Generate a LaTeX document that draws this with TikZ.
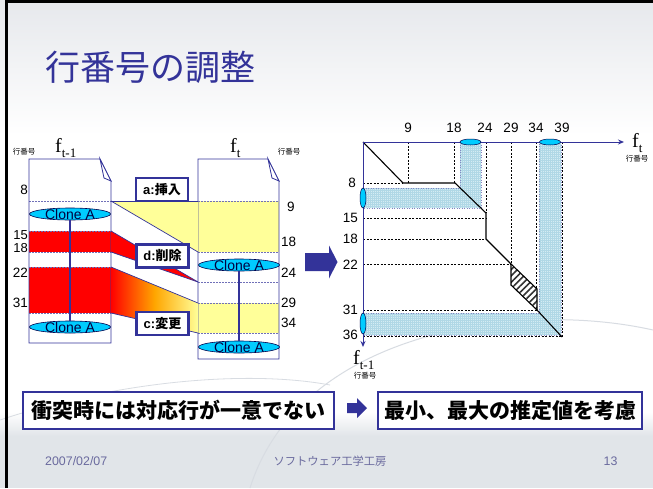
\documentclass[tikz,border=0pt]{standalone}
\usepackage{fontspec}
\setmainfont{Liberation Sans}
\newfontfamily\cjk{Noto Sans CJK JP}
\newfontfamily\tms{Liberation Serif}
\usetikzlibrary{shapes.geometric,arrows.meta,patterns.meta}
\definecolor{navy}{HTML}{333399}
\definecolor{cyanf}{HTML}{00CCFF}
\definecolor{yel}{HTML}{FFFF99}
\definecolor{bandc}{HTML}{D4ECF3}
\definecolor{bandl}{HTML}{B0D8E6}
\definecolor{footc}{HTML}{6A6A9E}
\definecolor{bgtop}{HTML}{E6E8EC}
\definecolor{bgbot}{HTML}{E1E5E9}
\definecolor{cloud}{HTML}{D8DCE2}
\newcommand\myfs[1]{\fontsize{#1}{#1}\selectfont}
\newcommand\fsub[1]{{\tms\myfs{20}f\raisebox{-5pt}{\myfs{13}#1}}}
\begin{document}
\begin{tikzpicture}[x=1pt,y=-1pt,
  docline/.style={draw=navy, line width=0.8pt},
  inner/.style={draw=navy!70, line width=0.4pt, dash pattern=on 1.5pt off 1.5pt},
  conn/.style={draw=navy, line width=0.7pt},
  clone/.style={ellipse, draw=black!70!blue, fill=cyanf, line width=0.6pt, minimum width=81pt, minimum height=12pt, inner sep=0pt},
  clonetxt/.style={font=\myfs{14}, text=black!75!blue, inner sep=0pt},
  num/.style={font=\myfs{13.5}, inner sep=0pt},
  opbox/.style={draw=navy, line width=2.2pt, fill=white, minimum width=52pt, minimum height=23pt, inner sep=0pt, font=\bfseries\myfs{13}},
  gdash/.style={draw=black, line width=0.6pt, dash pattern=on 2pt off 1.5pt},
  gline/.style={draw=black, line width=1.1pt},
  bandedge/.style={draw=navy!60, line width=0.5pt, dotted},
  axis/.style={draw=navy, line width=1pt},
  mini/.style={ellipse, draw=black!70!blue, fill=cyanf, line width=0.5pt, inner sep=0pt},
  bigbox/.style={draw=navy, line width=2.5pt, fill=white, inner sep=0pt, font=\cjk\bfseries\myfs{21}},
  small/.style={font=\cjk\myfs{7.5}, inner sep=0pt},
  foot/.style={text=footc, inner sep=0pt},
  blockarrow/.style={fill=navy}
]
\useasboundingbox (0,0) rectangle (653,488);
% background
\fill[white] (0,0) rectangle (653,488);
\shade[top color=bgtop, bottom color=white] (0,0) rectangle (653,135);
\shade[top color=white, bottom color=bgbot] (0,412) rectangle (653,436);
\fill[bgbot] (0,436) rectangle (653,488);
\draw[cloud, line width=1pt] (250,488) .. controls (300,330) and (520,300) .. (653,330);
\draw[cloud, line width=0.8pt] (0,420) .. controls (120,380) and (250,370) .. (330,385);
\draw[line width=3pt] (6.2,488) -- (6.2,1.5) -- (653,1.5);

% title
\node[anchor=west, text=navy, font=\cjk\myfs{35}, inner sep=0pt] (title) at (45,67) {行番号の調整};

% ---------- left document f_{t-1}
\fill[red] (29,231) rectangle (111,252);
\fill[red] (29,267) rectangle (111,313);
\draw[inner] (29,201) -- (111,201);
\draw[inner] (29,231) -- (111,231);
\draw[inner] (29,252) -- (111,252);
\draw[inner] (29,267) -- (111,267);
\draw[inner] (29,313) -- (111,313);
\draw[docline] (29,159) -- (100,159) -- (111,181) -- (111,343) -- (29,343) -- cycle;
\draw[docline, fill=white] (100,159) .. controls (102,168) .. (104,178) -- (111,181) -- cycle;

% ---------- right document f_t
\fill[yel] (198,201) rectangle (279,252);
\fill[yel] (198,303) rectangle (279,333);
\draw[inner] (198,201) -- (279,201);
\draw[inner] (198,252) -- (279,252);
\draw[inner] (198,282) -- (279,282);
\draw[inner] (198,303) -- (279,303);
\draw[inner] (198,333) -- (279,333);
\draw[docline] (198,159) -- (268,159) -- (279,181) -- (279,359) -- (198,359) -- cycle;
\draw[docline, fill=white] (268,159) .. controls (270,168) .. (272,178) -- (279,181) -- cycle;

% ---------- connectors between documents
\fill[yel] (111,201) -- (198,201) -- (198,252) -- cycle;
\draw[conn] (111,201) -- (198,201);
\draw[conn] (111,201) -- (198,252);
\fill[red] (111,231) -- (198,282) -- (111,252) -- cycle;
\draw[conn] (111,231) -- (198,282);
\draw[conn] (111,252) -- (198,282);
\shade[left color=red, right color=yel, middle color=orange!70!yellow] (111,267) -- (198,303) -- (198,333) -- (111,313) -- cycle;
\draw[conn] (111,267) -- (198,303);
\draw[conn] (111,313) -- (198,333);

% clones
\node[clone] (c1) at (70,214) {};
\node[clone] (c2) at (70,327) {};
\node[clone] (c3) at (239,265) {};
\node[clone] (c4) at (239,347) {};
\draw[navy, line width=2.2pt] (c1.south) -- (c2.north);
\draw[navy, line width=2.2pt] (c3.south) -- (c4.north);
\node[clonetxt] (t1) at (70,214.5) {Clone A};
\node[clonetxt] (t2) at (70,327.5) {Clone A};
\node[clonetxt] (t3) at (239,265.5) {Clone A};
\node[clonetxt] (t4) at (239,347.5) {Clone A};

% op boxes
\node[opbox] (opa) at (162,189.5) {a:{\cjk\bfseries 挿入}};
\node[opbox] (opd) at (162.5,256) {d:{\cjk\bfseries 削除}};
\node[opbox] (opc) at (162.5,323.5) {c:{\cjk\bfseries 変更}};

% numbers
\node[num, anchor=east] (l8) at (28,190) {8};
\node[num, anchor=east, font=\myfs{13}] (l15) at (28,235.5) {15};
\node[num, anchor=east, font=\myfs{13}] (l18) at (28,248) {18};
\node[num, anchor=east] (l22) at (28,273) {22};
\node[num, anchor=east] (l31) at (28,303) {31};
\node[num, anchor=west] (r9) at (287,207) {9};
\node[num, anchor=west] (r18) at (281,242) {18};
\node[num, anchor=west] (r24) at (281,273) {24};
\node[num, anchor=west] (r29) at (281,303) {29};
\node[num, anchor=west] (r34) at (281,323) {34};

% headers
\node[anchor=base west, inner sep=0pt] (fl) at (55,152) {\fsub{t-1}};
\node[anchor=base west, inner sep=0pt] (fr) at (230,152) {\fsub{t}};
\node[small] (kl) at (24,152) {行番号};
\node[small] (kr) at (289,152) {行番号};

% big arrow
\fill[blockarrow] (305,253) -- (329,253) -- (329,245.5) -- (337.5,262) -- (329,278.5) -- (329,271) -- (305,271) -- cycle;

% ---------- graph
\coordinate (O) at (363,142);
\fill[bandc] (363,188) rectangle (481,208);
\fill[bandc] (460,142) rectangle (481,208);
\fill[bandc] (363,313) rectangle (561,335);
\fill[bandc] (539,142) rectangle (561,335);
\fill[pattern={Hatch[distance=2pt, line width=0.35pt]}, pattern color=bandl] (363,188) -- (460,188) -- (460,142) -- (481,142) -- (481,208) -- (363,208) -- cycle;
\fill[pattern={Hatch[distance=2pt, line width=0.35pt]}, pattern color=bandl] (363,313) -- (539,313) -- (539,142) -- (561,142) -- (561,335) -- (363,335) -- cycle;
\draw[bandedge] (363,188) -- (460,188) -- (460,142) (481,142) -- (481,208) -- (363,208);
\draw[bandedge] (363,313) -- (539,313) -- (539,142) (561,142) -- (561,335) -- (363,335);

% dashed guides
\draw[gdash] (408,142) -- (408,183);
\draw[gdash] (454,142) -- (454,183);
\draw[gdash] (486,142) -- (486,213);
\draw[gdash] (511,142) -- (511,264);
\draw[gdash] (536.5,142) -- (536.5,310);
\draw[gdash] (562,142) -- (562,337);
\draw[gdash] (363,183) -- (403,183);
\draw[gdash] (363,218) -- (486,218);
\draw[gdash] (363,239) -- (486,239);
\draw[gdash] (363,264) -- (511,264);
\draw[gdash] (363,310.5) -- (537,310.5);
\draw[gdash] (363,336.5) -- (562,336.5);

% hatched region and path
\fill[white] (511,264) -- (537,289) -- (537,310) -- (511,285) -- cycle;
\fill[pattern={Lines[angle=45, distance=4.5pt, line width=1.6pt]}, pattern color=black!80] (511,264) -- (537,289) -- (537,310) -- (511,285) -- cycle;
\draw[gline] (O) -- (403,183) -- (455,183) -- (486,213) -- (486,239) -- (511,264) -- (537,289) -- (537,310) -- (562,337);
\draw[gline] (511,264) -- (511,285) -- (537,310);

% axes
\draw[axis, -{Stealth[length=6pt, width=5pt]}] (O) -- (624,142);
\draw[axis, -{Stealth[length=6pt, width=5pt]}] (O) -- (363,347);
\node[mini, minimum width=21pt, minimum height=6pt] (e1) at (470.5,142) {};
\node[mini, minimum width=21pt, minimum height=6pt] (e2) at (550,142) {};
\node[mini, minimum width=6pt, minimum height=20pt] (e3) at (363,198) {};
\node[mini, minimum width=6pt, minimum height=21pt] (e4) at (363,323.5) {};

% graph labels
\node[num] (g9) at (408,128) {9};
\node[num] (g18) at (454,128) {18};
\node[num] (g24) at (485,128) {24};
\node[num] (g29) at (511,128) {29};
\node[num] (g34) at (536,128) {34};
\node[num] (g39) at (562,128) {39};
\node[num, anchor=east] (h8) at (356,183) {8};
\node[num, anchor=east] (h15) at (358,218) {15};
\node[num, anchor=east] (h18) at (358,239) {18};
\node[num, anchor=east] (h22) at (358,265) {22};
\node[num, anchor=east] (h31) at (358,310) {31};
\node[num, anchor=east] (h36) at (358,335) {36};
\node[anchor=base west, inner sep=0pt] (gft) at (632,147) {\fsub{t}};
\node[small] (gkt) at (637,159) {行番号};
\node[anchor=base west, inner sep=0pt] (gfb) at (353,364) {\fsub{t-1}};
\node[small] (gkb) at (365,376) {行番号};

% bottom statement boxes
\node[bigbox, minimum width=311pt, minimum height=37pt] (b1) at (178.5,410.5) {衝突時には対応行が一意でない};
\fill[blockarrow] (347,403) -- (357,403) -- (357,398) -- (367,408) -- (357,418) -- (357,413) -- (347,413) -- cycle;
\node[bigbox, minimum width=264pt, minimum height=37pt] (b2) at (510,410.5) {最小、最大の推定値を考慮};

% footer
\node[foot, anchor=west, font=\myfs{12.4}] (date) at (45,461) {2007/02/07};
\node[foot, font=\cjk\myfs{11.3}] (org) at (330,461) {ソフトウェア工学工房};
\node[foot, font=\myfs{12.4}] (page) at (610.5,461) {13};
\end{tikzpicture}
\end{document}
